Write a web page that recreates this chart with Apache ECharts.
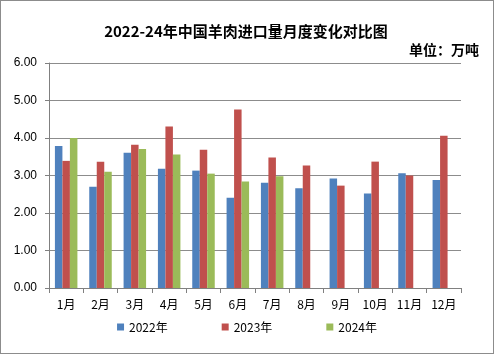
<!doctype html>
<html lang="zh">
<head>
<meta charset="UTF-8">
<title>2022-24年中国羊肉进口量月度变化对比图</title>
<script src="https://cdn.jsdelivr.net/npm/echarts@6/dist/echarts.min.js"></script>
<style>
  html, body { margin: 0; padding: 0; background: #fff; }
  #chart { width: 492px; height: 352px; border: 1px solid #8c8c8c; }
</style>
</head>
<body>
<div id="chart"></div>
<script>
// 月份
const months = ['1月', '2月', '3月', '4月', '5月', '6月', '7月', '8月', '9月', '10月', '11月', '12月'];
// 进口量 (万吨)
const y2022 = [3.79, 2.70, 3.61, 3.18, 3.13, 2.41, 2.81, 2.66, 2.92, 2.52, 3.06, 2.88];
const y2023 = [3.39, 3.37, 3.82, 4.31, 3.69, 4.76, 3.48, 3.27, 2.73, 3.37, 3.00, 4.06];
const y2024 = [4.00, 3.10, 3.71, 3.56, 3.05, 2.84, 2.98, null, null, null, null, null];
const seriesNames = ['2022年', '2023年', '2024年'];
const colors = ['#4f81bd', '#c0504d', '#9bbb59'];

const chart = echarts.init(document.getElementById('chart'));

const cjk = '"Noto Sans CJK SC", sans-serif';

chart.setOption({
  animation: false,
  color: colors,
  title: [{
    text: '2022-24年中国羊肉进口量月度变化对比图',
    left: 240, top: 18,
    textAlign: 'center',
    textStyle: { fontSize: 15, fontWeight: 'bold', color: '#000', fontFamily: cjk }
  }, {
    text: '单位：万吨',
    right: 9, top: 37,
    textStyle: { fontSize: 14, fontWeight: 'bold', color: '#000', fontFamily: cjk }
  }],
  legend: {
    bottom: 15,
    left: 'center',
    itemWidth: 7,
    itemHeight: 7,
    itemGap: 54,
    icon: 'rect',
    data: seriesNames,
    textStyle: { fontSize: 12, color: '#000', fontFamily: cjk }
  },
  grid: { left: 48, right: 32, top: 62, bottom: 65, containLabel: false },
  xAxis: {
    type: 'category',
    data: months,
    axisLine: { lineStyle: { color: '#808080' } },
    axisTick: { show: true, length: 5, lineStyle: { color: '#808080' } },
    axisLabel: { color: '#000', fontSize: 12, margin: 10, fontFamily: cjk }
  },
  yAxis: {
    type: 'value',
    min: 0, max: 6, interval: 1,
    axisLine: { show: true, lineStyle: { color: '#808080' } },
    axisTick: { show: true, inside: false, length: 4, lineStyle: { color: '#808080' } },
    splitLine: { lineStyle: { color: '#8c8c8c' } },
    axisLabel: {
      color: '#000', fontSize: 12, margin: 12,
      fontFamily: '"Liberation Sans", Arial, sans-serif',
      formatter: v => v.toFixed(2)
    }
  },
  series: [
    { name: seriesNames[0], type: 'bar', data: y2022, barWidth: 7.5, barGap: '0%' },
    { name: seriesNames[1], type: 'bar', data: y2023, barWidth: 7.5, barGap: '0%' },
    { name: seriesNames[2], type: 'bar', data: y2024, barWidth: 7.5, barGap: '0%' }
  ]
});
</script>
</body>
</html>
